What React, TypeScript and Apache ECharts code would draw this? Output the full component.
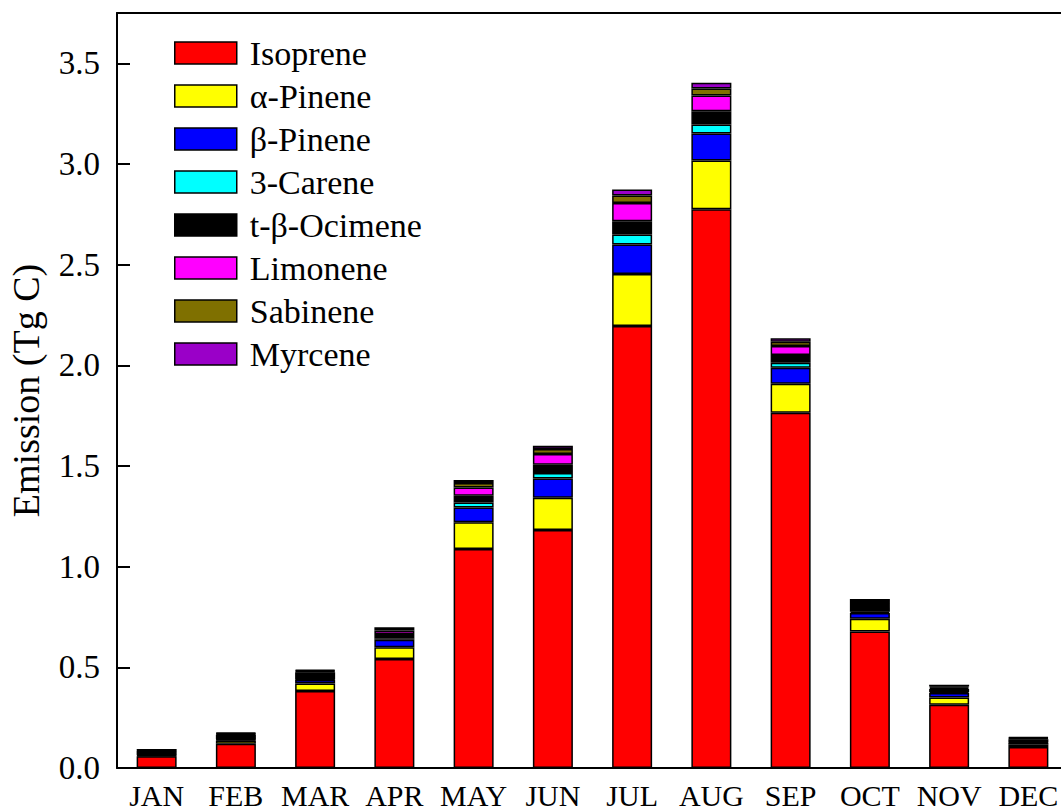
import React, { useEffect, useRef } from "react";
import * as echarts from "echarts";

const months = ["JAN", "FEB", "MAR", "APR", "MAY", "JUN", "JUL", "AUG", "SEP", "OCT", "NOV", "DEC"];
const seriesNames = ["Isoprene", "α-Pinene", "β-Pinene", "3-Carene", "t-β-Ocimene", "Limonene", "Sabinene", "Myrcene"];
const seriesColors = ["#FF0000", "#FFFF00", "#0000FF", "#00FFFF", "#000000", "#FF00FF", "#7F7000", "#9A00C8"];

const isoprene = [0.058, 0.121, 0.382, 0.542, 1.088, 1.182, 2.195, 2.775, 1.765, 0.678, 0.314, 0.104];
const alphaPinene = [0.004, 0.016, 0.038, 0.058, 0.132, 0.160, 0.259, 0.243, 0.144, 0.063, 0.036, 0.012];
const betaPinene = [0.003, 0.004, 0.017, 0.037, 0.074, 0.096, 0.146, 0.134, 0.079, 0.029, 0.022, 0.008];
const carene = [0.002, 0.002, 0.003, 0.008, 0.025, 0.027, 0.050, 0.044, 0.025, 0.006, 0.005, 0.003];
const ocimene = [0.018, 0.022, 0.035, 0.021, 0.033, 0.041, 0.066, 0.066, 0.038, 0.024, 0.016, 0.016];
const limonene = [0.003, 0.004, 0.005, 0.017, 0.041, 0.053, 0.090, 0.078, 0.045, 0.010, 0.006, 0.004];
const sabinene = [0.002, 0.003, 0.004, 0.008, 0.022, 0.025, 0.038, 0.035, 0.021, 0.014, 0.006, 0.003];
const myrcene = [0.002, 0.003, 0.004, 0.008, 0.015, 0.016, 0.029, 0.028, 0.017, 0.016, 0.009, 0.004];

const seriesValues = [isoprene, alphaPinene, betaPinene, carene, ocimene, limonene, sabinene, myrcene];

const FONT = "'Liberation Serif', 'Times New Roman', serif";

export default function App() {
  const ref = useRef<HTMLDivElement>(null);
  useEffect(() => {
    if (!ref.current) return;
    const chart = echarts.init(ref.current, null, { renderer: "svg" });
    chart.setOption({
      animation: false,
      backgroundColor: "#ffffff",
      grid: {
        left: 117,
        top: 13,
        width: 951,
        height: 755,
        show: false,
        containLabel: false,
        outerBoundsMode: "none",
      },
      legend: {
        orient: "vertical",
        left: 169,
        top: 30,
        itemWidth: 62,
        itemHeight: 22,
        itemGap: 7,
        icon: "rect",
        data: seriesNames,
        itemStyle: { borderColor: "#000", borderWidth: 1.5 },
        textStyle: { fontFamily: FONT, fontSize: 34, color: "#000", lineHeight: 36, padding: [0, 0, 0, 8] },
      },
      xAxis: [
        {
          type: "category",
          data: months,
          axisLine: { lineStyle: { color: "#000", width: 2 } },
          axisTick: { show: false },
          axisLabel: {
            fontFamily: FONT,
            fontSize: 30,
            lineHeight: 28,
            color: "#000",
            margin: 13,
            interval: 0,
            hideOverlap: false,
          },
        },
        {
          type: "category",
          data: months,
          position: "top",
          axisLine: { show: true, onZero: false, lineStyle: { color: "#000", width: 2 } },
          axisTick: { show: false },
          axisLabel: { show: false },
        },
      ],
      yAxis: {
        type: "value",
        min: 0,
        max: 3.75,
        interval: 0.5,
        name: "Emission (Tg C)",
        nameLocation: "middle",
        nameGap: 72,
        nameTextStyle: { fontFamily: FONT, fontSize: 38, color: "#000" },
        axisLine: { show: true, lineStyle: { color: "#000", width: 2 } },
        axisTick: { show: true, inside: true, length: 13, lineStyle: { color: "#000", width: 2 } },
        axisLabel: {
          fontFamily: FONT,
          fontSize: 33,
          color: "#000",
          margin: 17,
          formatter: (v: number) => (v > 3.6 ? "" : v.toFixed(1)),
        },
        splitLine: { show: false },
      },
      series: seriesNames.map((name, i) => ({
        name,
        type: "bar",
        stack: "total",
        barWidth: 40,
        xAxisIndex: 0,
        data: seriesValues[i],
        itemStyle: { color: seriesColors[i], borderColor: "#000", borderWidth: 1.5 },
      })),
    });
    return () => chart.dispose();
  }, []);
  return <div ref={ref} style={{ position: "fixed", left: 0, top: 0, width: 1061, height: 810 }} />;
}
